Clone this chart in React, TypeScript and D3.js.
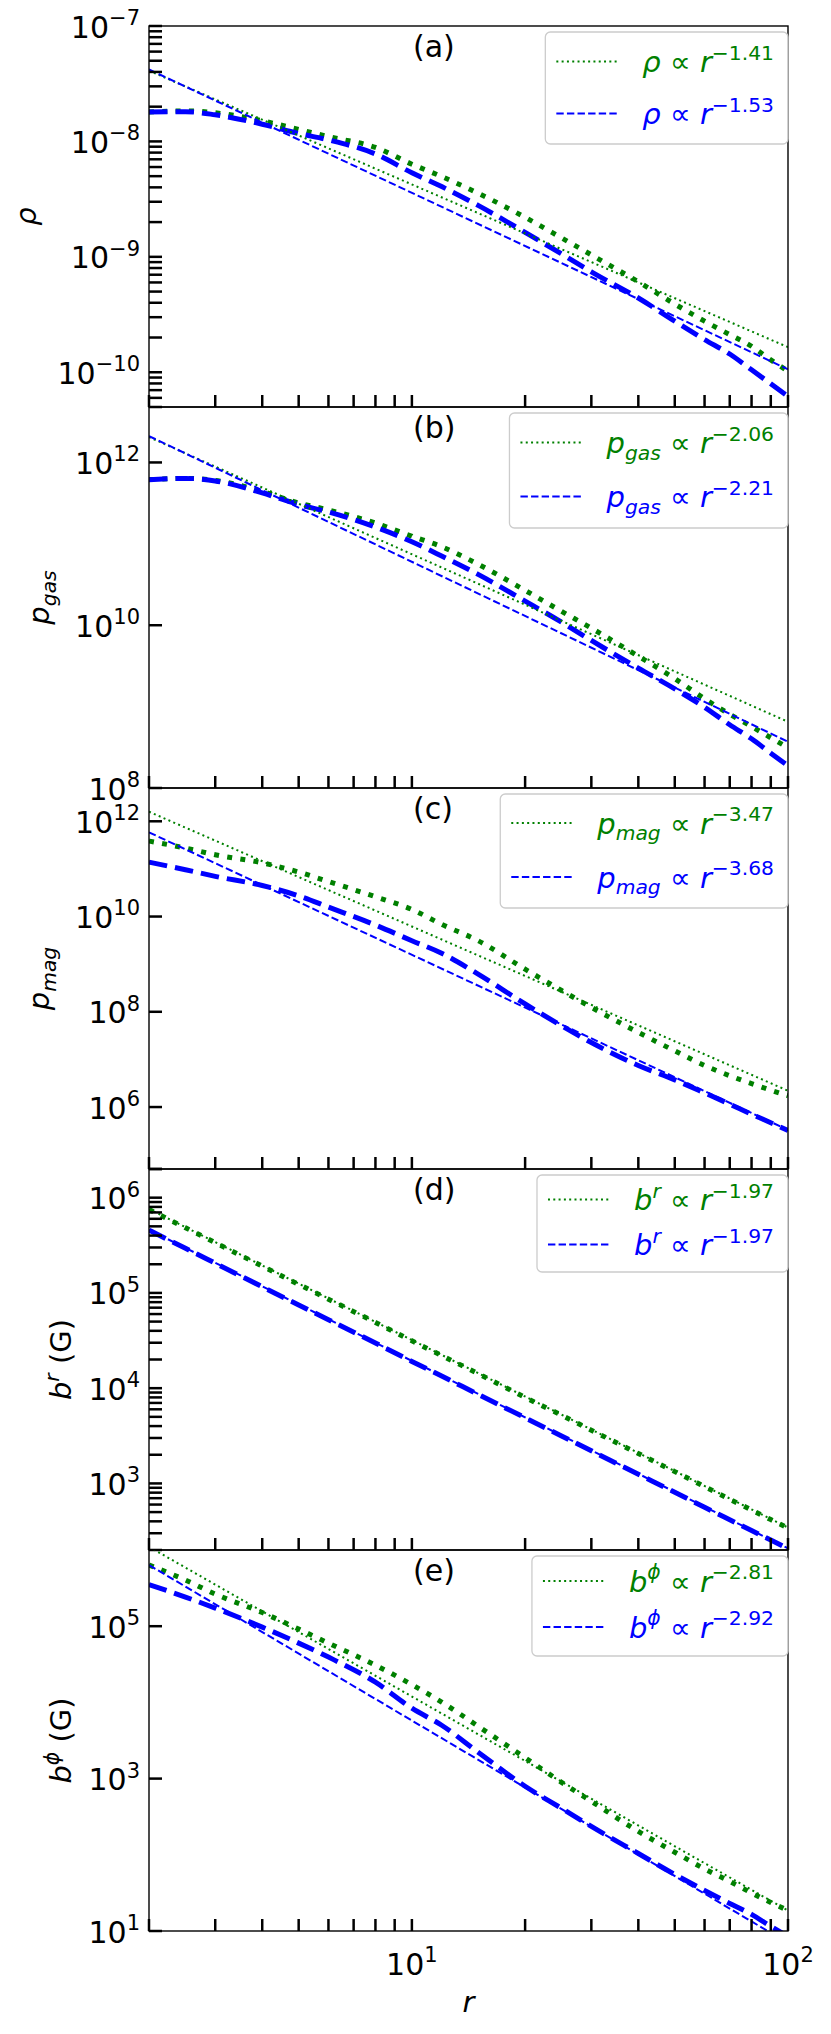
import React, { useEffect, useRef } from "react";
import * as d3 from "d3";

// ---------------- data ----------------
const rGrid = [2, 2.5, 3, 4, 5, 6, 8, 10, 12, 15, 20, 25, 30, 40, 50, 60, 70, 80, 90, 100];
const fitR = [2, 100];

// (a) density
const rhoGreen = [1.8e-8, 1.84e-8, 1.77e-8, 1.51e-8, 1.27e-8, 1.1e-8, 8.87e-9, 6.35e-9, 4.96e-9, 3.56e-9, 2.2e-9, 1.46e-9, 1.04e-9, 6.07e-10, 3.9e-10, 2.77e-10, 2.12e-10, 1.68e-10, 1.28e-10, 1.02e-10];
const rhoBlue = [1.8e-8, 1.81e-8, 1.7e-8, 1.41e-8, 1.17e-8, 1.03e-8, 7.78e-9, 5.35e-9, 4.06e-9, 2.79e-9, 1.63e-9, 1.06e-9, 7.41e-10, 4.4e-10, 2.77e-10, 1.92e-10, 1.44e-10, 1.05e-10, 7.94e-11, 6.18e-11];
const rhoFitGreen = [4.1e-8, 1.65e-10];
const rhoFitBlue = [4.2e-8, 1.06e-10];
const rhoExponents = ["\u22121.41", "\u22121.53"];
const rhoTickExps = [-10, -9, -8, -7];
const rhoDomain = [5e-11, 1e-7];

// (b) gas pressure
const pgasGreen = [6.15e11, 6.37e11, 6.01e11, 4.4e11, 3.18e11, 2.61e11, 1.8e11, 1.24e11, 9.23e10, 5.62e10, 2.68e10, 1.48e10, 9.2e9, 4.16e9, 2.21e9, 1.25e9, 8.05e8, 5.7e8, 4.14e8, 3.14e8];
const pgasBlue = [6.15e11, 6.37e11, 5.93e11, 4.22e11, 3.04e11, 2.46e11, 1.61e11, 1.06e11, 7.08e10, 4.21e10, 1.98e10, 1.09e10, 6.5e9, 2.97e9, 1.65e9, 9.8e8, 5.98e8, 4.02e8, 2.68e8, 1.87e8];
const pgasFitGreen = [2.05e12, 6.5e8];
const pgasFitBlue = [2.11e12, 3.7e8];
const pgasExponents = ["\u22122.06", "\u22122.21"];
const pgasTickExps = [8, 10, 12];
const pgasDomain = [1e8, 4.8e12];

// (c) magnetic pressure
const pmagGreen = [3.85e11, 2.74e11, 1.98e11, 1.34e11, 8.59e10, 5.43e10, 2.6e10, 1.41e10, 6.85e9, 3.11e9, 7.84e8, 2.8e8, 1.24e8, 3.69e7, 1.51e7, 7.47e6, 4.54e6, 3.1e6, 2.26e6, 1.73e6];
const pmagBlue = [1.39e11, 9.62e10, 6.98e10, 4.48e10, 2.72e10, 1.58e10, 6.62e9, 3.11e9, 1.69e9, 6.18e8, 1.46e8, 5.09e7, 2.26e7, 7.46e6, 3.71e6, 1.98e6, 1.15e6, 7.08e5, 4.68e5, 3.21e5];
const pmagFitGreen = [1.59e12, 2.2e6];
const pmagFitBlue = [5.86e11, 3.3e5];
const pmagExponents = ["\u22123.47", "\u22123.68"];
const pmagTickExps = [6, 8, 10, 12];
const pmagDomain = [5e4, 5e12];

// (d) radial field
const brGreen = [7.5e5, 4.83e5, 3.37e5, 1.91e5, 1.23e5, 8.6e4, 4.9e4, 3.14e4, 2.2e4, 1.42e4, 8.0e3, 5.2e3, 3.62e3, 2.06e3, 1.33e3, 925, 682, 526, 417, 340];
const brBlue = [4.56e5, 2.94e5, 2.05e5, 1.16e5, 7.48e4, 5.24e4, 2.98e4, 1.91e4, 1.34e4, 8.6e3, 4.89e3, 3.15e3, 2.2e3, 1.25e3, 807, 561, 415, 320, 254, 207];
const brFitGreen = [7.6e5, 344];
const brFitBlue = [4.6e5, 208];
const brExponents = ["\u22121.97", "\u22121.97"];
const brTickExps = [3, 4, 5, 6];
const brDomain = [200, 2e6];

// (e) toroidal field
const bphiGreen = [6.35e5, 4.03e5, 2.64e5, 1.51e5, 9.17e4, 6.0e4, 3.08e4, 1.71e4, 1.01e4, 4.87e3, 1.88e3, 894, 503, 203, 108, 65.3, 44.7, 31.6, 23.7, 18.6];
const bphiBlue = [3.52e5, 2.41e5, 1.73e5, 9.72e4, 6.0e4, 3.93e4, 1.84e4, 8.39e3, 5.01e3, 2.22e3, 793, 407, 236, 104, 55.2, 34.0, 23.0, 16.5, 11.5, 8.47];
const bphiFitGreen = [1.1e6, 18.5];
const bphiFitBlue = [6.35e5, 6.95];
const bphiExponents = ["\u22122.81", "\u22122.92"];
const bphiTickExps = [1, 3, 5];
const bphiDomain = [10, 1e6];

const xTickLabelExps = [1, 2];
const panelLetters = ["(a)", "(b)", "(c)", "(d)", "(e)"];

// ---------------- layout ----------------
const W = 831;
const H = 2034;
const LEFT = 149;
const RIGHT = 788;
const TOP0 = 26;
const PH = 381;
const FS = 29;
const TFS = 30;
const GREEN = "#008000";
const BLUE = "#0000ff";
const FONT = "DejaVu Sans";

type Seg = { t: string; it?: boolean; pos?: "sup" | "sub" };

function rich(sel: any, segs: Seg[], fs: number) {
  let shift = 0;
  for (const s of segs) {
    const target = s.pos === "sup" ? -0.42 * fs : s.pos === "sub" ? 0.24 * fs : 0;
    sel
      .append("tspan")
      .attr("dy", target - shift)
      .attr("font-size", s.pos ? fs * 0.7 : fs)
      .attr("font-style", s.it ? "italic" : "normal")
      .text(s.t);
    shift = target;
  }
}

const panels = [
  {
    green: rhoGreen, blue: rhoBlue, fitG: rhoFitGreen, fitB: rhoFitBlue, domain: rhoDomain,
    tickExps: rhoTickExps, minor: true, extraMinor: [] as number[],
    ylabel: [{ t: "\u03c1", it: true }] as Seg[], ylabelX: 36,
    sym: [{ t: "\u03c1", it: true }] as Seg[], exps: rhoExponents,
    leg: { r1: 29.5, gap: 52, h: 112 },
  },
  {
    green: pgasGreen, blue: pgasBlue, fitG: pgasFitGreen, fitB: pgasFitBlue, domain: pgasDomain,
    tickExps: pgasTickExps, minor: false, extraMinor: [] as number[],
    ylabel: [{ t: "p", it: true }, { t: "gas", it: true, pos: "sub" }] as Seg[], ylabelX: 49,
    sym: [{ t: "p", it: true }, { t: "gas", it: true, pos: "sub" }] as Seg[], exps: pgasExponents,
    leg: { r1: 29.5, gap: 54, h: 115 },
  },
  {
    green: pmagGreen, blue: pmagBlue, fitG: pmagFitGreen, fitB: pmagFitBlue, domain: pmagDomain,
    tickExps: pmagTickExps, minor: false, extraMinor: [5e4],
    ylabel: [{ t: "p", it: true }, { t: "mag", it: true, pos: "sub" }] as Seg[], ylabelX: 49,
    sym: [{ t: "p", it: true }, { t: "mag", it: true, pos: "sub" }] as Seg[], exps: pmagExponents,
    leg: { r1: 29, gap: 54, h: 114 },
  },
  {
    green: brGreen, blue: brBlue, fitG: brFitGreen, fitB: brFitBlue, domain: brDomain,
    tickExps: brTickExps, minor: true, extraMinor: [] as number[],
    ylabel: [{ t: "b", it: true }, { t: "r", it: true, pos: "sup" }, { t: " (G)" }] as Seg[], ylabelX: 71,
    sym: [{ t: "b", it: true }, { t: "r", it: true, pos: "sup" }] as Seg[], exps: brExponents,
    leg: { r1: 24.5, gap: 45, h: 97 },
  },
  {
    green: bphiGreen, blue: bphiBlue, fitG: bphiFitGreen, fitB: bphiFitBlue, domain: bphiDomain,
    tickExps: bphiTickExps, minor: false, extraMinor: [] as number[],
    ylabel: [{ t: "b", it: true }, { t: "\u03d5", it: true, pos: "sup" }, { t: " (G)" }] as Seg[], ylabelX: 71,
    sym: [{ t: "b", it: true }, { t: "\u03d5", it: true, pos: "sup" }] as Seg[], exps: bphiExponents,
    leg: { r1: 25, gap: 46, h: 100 },
  },
];

function expLabel(e: number): Seg[] {
  return [{ t: "10" }, { t: e < 0 ? "\u2212" + Math.abs(e) : String(e), pos: "sup" }];
}

export default function App() {
  const ref = useRef<SVGSVGElement | null>(null);

  useEffect(() => {
    const svg = d3.select(ref.current);
    svg.selectAll("*").remove();
    svg.append("rect").attr("width", W).attr("height", H).attr("fill", "#fff");

    const x = d3.scaleLog().domain([2, 100]).range([LEFT, RIGHT]);
    const xTicks: number[] = [];
    [1, 10].forEach((dec) => {
      for (let k = 1; k <= 9; k++) {
        const v = k * dec;
        if (v >= 2) xTicks.push(v);
      }
    });
    xTicks.push(100);

    panels.forEach((p, i) => {
      const top = TOP0 + i * PH;
      const bottom = top + PH;
      const y = d3.scaleLog().domain(p.domain).range([bottom, top]);
      const clipId = "clip" + i;
      svg.append("clipPath").attr("id", clipId)
        .append("rect").attr("x", LEFT).attr("y", top).attr("width", RIGHT - LEFT).attr("height", PH);

      const lines = svg.append("g").attr("clip-path", `url(#${clipId})`);
      const curve = d3.line<[number, number]>().x((d) => x(d[0])).y((d) => y(d[1])).curve(d3.curveMonotoneX);
      const straight = d3.line<[number, number]>().x((d) => x(d[0])).y((d) => y(d[1]));

      const gData = rGrid.map((r, j) => [r, p.green[j]] as [number, number]);
      const bData = rGrid.map((r, j) => [r, p.blue[j]] as [number, number]);
      const gFit = fitR.map((r, j) => [r, p.fitG[j]] as [number, number]);
      const bFit = fitR.map((r, j) => [r, p.fitB[j]] as [number, number]);

      lines.append("path").datum(gData).attr("d", curve).attr("fill", "none")
        .attr("stroke", GREEN).attr("stroke-width", 5).attr("stroke-dasharray", "5 8.3");
      lines.append("path").datum(bData).attr("d", curve).attr("fill", "none")
        .attr("stroke", BLUE).attr("stroke-width", 5).attr("stroke-dasharray", "18.5 8");
      lines.append("path").datum(gFit).attr("d", straight).attr("fill", "none")
        .attr("stroke", GREEN).attr("stroke-width", 2).attr("stroke-dasharray", "2 3.3");
      lines.append("path").datum(bFit).attr("d", straight).attr("fill", "none")
        .attr("stroke", BLUE).attr("stroke-width", 2).attr("stroke-dasharray", "7.4 3.2");

      // spines
      svg.append("rect").attr("x", LEFT).attr("y", top).attr("width", RIGHT - LEFT).attr("height", PH)
        .attr("fill", "none").attr("stroke", "#000").attr("stroke-width", 1.4);

      // x ticks (inside, pointing up)
      const tg = svg.append("g").attr("stroke", "#000").attr("stroke-width", 2.5);
      xTicks.forEach((v) => {
        tg.append("line").attr("x1", x(v)).attr("x2", x(v)).attr("y1", bottom).attr("y2", bottom - 12);
      });

      // y ticks
      const [lo, hi] = p.domain;
      const yt: number[] = p.tickExps.map((e) => Math.pow(10, e));
      if (p.minor) {
        for (let e = Math.floor(Math.log10(lo)); e <= Math.ceil(Math.log10(hi)); e++) {
          for (let k = 2; k <= 9; k++) {
            const v = k * Math.pow(10, e);
            if (v >= lo * 0.999 && v <= hi * 1.001) yt.push(v);
          }
        }
      }
      p.extraMinor.forEach((v) => yt.push(v));
      yt.forEach((v) => {
        tg.append("line").attr("x1", LEFT).attr("x2", LEFT + 13).attr("y1", y(v)).attr("y2", y(v));
      });

      // y tick labels
      p.tickExps.forEach((e) => {
        const t = svg.append("text").attr("x", LEFT - 9).attr("y", y(Math.pow(10, e)) + 11.5)
          .attr("text-anchor", "end").attr("font-family", FONT).attr("font-size", TFS)
          .style("white-space", "pre");
        rich(t, expLabel(e), TFS);
      });

      // y label
      const cy = (top + bottom) / 2;
      const yl = svg.append("text")
        .attr("transform", `translate(${p.ylabelX},${cy}) rotate(-90)`)
        .attr("text-anchor", "middle").attr("font-family", FONT).attr("font-size", FS)
        .style("white-space", "pre");
      rich(yl, p.ylabel, FS);

      // panel letter
      svg.append("text").attr("x", 413).attr("y", top + 31).attr("font-family", FONT)
        .attr("font-size", 30).text(panelLetters[i]);

      // legend
      const lg = svg.append("g");
      const boxTop = top + 6;
      const rows = [boxTop + p.leg.r1, boxTop + p.leg.r1 + p.leg.gap];
      const colors = [GREEN, BLUE];
      const dashes = ["2 3.3", "7.4 3.2"];
      const textEnd = RIGHT - 14;
      const box = lg.append("rect");
      let maxW = 0;
      rows.forEach((ry, k) => {
        const t = lg.append("text").attr("x", textEnd).attr("y", ry + 10.5)
          .attr("text-anchor", "end").attr("font-family", FONT).attr("font-size", FS)
          .attr("fill", colors[k]).style("white-space", "pre");
        rich(t, [...p.sym, { t: " \u221d " }, { t: "r", it: true }, { t: p.exps[k], pos: "sup" }], FS);
        const node = t.node() as SVGTextElement;
        maxW = Math.max(maxW, node.getComputedTextLength());
      });
      const textStart = textEnd - maxW;
      const lineEnd = textStart - 23;
      const lineStart = lineEnd - 63;
      const boxLeft = lineStart - 11;
      box.attr("x", boxLeft).attr("y", boxTop).attr("width", RIGHT - boxLeft).attr("height", p.leg.h)
        .attr("rx", 5).attr("fill", "#fff").attr("fill-opacity", 0.8)
        .attr("stroke", "#cccccc").attr("stroke-width", 1.3);
      rows.forEach((ry, k) => {
        lg.append("line").attr("x1", lineStart).attr("x2", lineEnd).attr("y1", ry).attr("y2", ry)
          .attr("stroke", colors[k]).attr("stroke-width", 2).attr("stroke-dasharray", dashes[k]);
      });

      // x tick labels on bottom panel
      if (i === panels.length - 1) {
        xTickLabelExps.forEach((e) => {
          const t = svg.append("text").attr("x", x(Math.pow(10, e))).attr("y", bottom + 44)
            .attr("text-anchor", "middle").attr("font-family", FONT).attr("font-size", TFS)
            .style("white-space", "pre");
          rich(t, expLabel(e), TFS);
        });
        svg.append("text").attr("x", (LEFT + RIGHT) / 2).attr("y", bottom + 81)
          .attr("text-anchor", "middle").attr("font-family", FONT).attr("font-size", FS)
          .attr("font-style", "italic").text("r");
      }
    });
  }, []);

  return (
    <div style={{ position: "absolute", left: 0, top: 0 }}>
      <svg ref={ref} width={W} height={H} style={{ display: "block" }} />
    </div>
  );
}
